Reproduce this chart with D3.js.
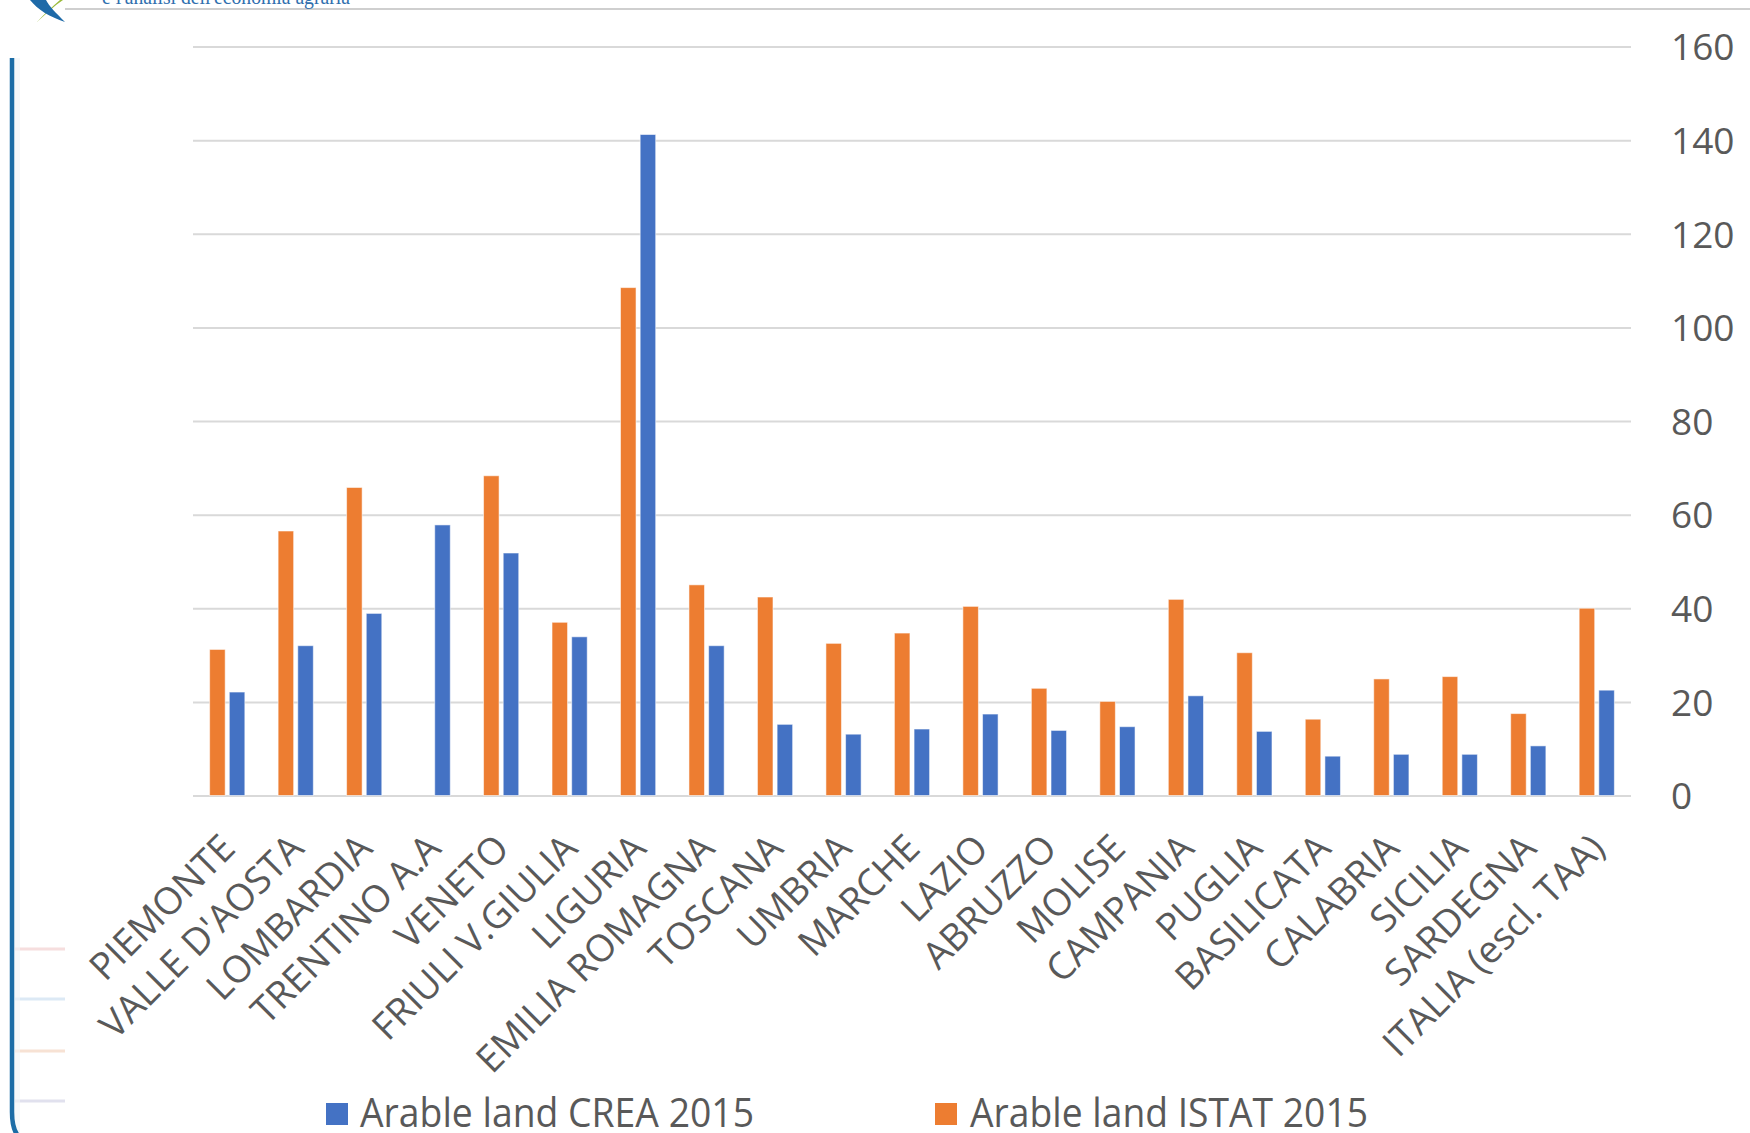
<!DOCTYPE html>
<html>
<head>
<meta charset="utf-8">
<script src="https://cdn.jsdelivr.net/npm/d3@7/dist/d3.min.js"></script>
<style>
  html, body { margin: 0; padding: 0; background: #ffffff; }
  svg { display: block; }
</style>
</head>
<body>
<svg id="chart" width="1750" height="1133"></svg>
<script>
// Regional arable land, CREA vs ISTAT estimates (2015)
const categories = [
  "PIEMONTE", "VALLE D'AOSTA", "LOMBARDIA", "TRENTINO A.A", "VENETO",
  "FRIULI V.GIULIA", "LIGURIA", "EMILIA ROMAGNA", "TOSCANA", "UMBRIA",
  "MARCHE", "LAZIO", "ABRUZZO", "MOLISE", "CAMPANIA", "PUGLIA",
  "BASILICATA", "CALABRIA", "SICILIA", "SARDEGNA", "ITALIA (escl. TAA)"
];
const creaValues = [
  22.1, 32.0, 38.9, 57.8, 51.8, 33.9, 141.2, 32.0, 15.2, 13.1,
  14.2, 17.4, 13.9, 14.7, 21.3, 13.7, 8.4, 8.8, 8.8, 10.6, 22.5
];
const istatValues = [
  31.2, 56.5, 65.8, null, 68.3, 37.0, 108.5, 45.0, 42.4, 32.5,
  34.7, 40.4, 22.9, 20.1, 41.9, 30.5, 16.3, 24.9, 25.4, 17.5, 40.0
];
const yTicks = [0, 20, 40, 60, 80, 100, 120, 140, 160];
const seriesNames = ["Arable land CREA 2015", "Arable land ISTAT 2015"];

const BLUE = "#4472C4", ORANGE = "#ED7D31", TEXT = "#595959", GRID = "#d9d9d9";

const svg = d3.select("#chart");

// ---- page decoration: header rule, logo fragment, frame ----
const deco = svg.append("g");
deco.append("line")
  .attr("x1", 65).attr("x2", 1750).attr("y1", 9).attr("y2", 9)
  .attr("stroke", "#cfcfcf").attr("stroke-width", 2);
deco.append("text")
  .attr("x", 102).attr("y", 4)
  .attr("font-family", "'Liberation Serif', serif")
  .attr("font-size", 20)
  .attr("fill", "#2f6fae")
  .attr("textLength", 248).attr("lengthAdjust", "spacingAndGlyphs")
  .text("e l'analisi dell'economia agraria");
deco.append("path")
  .attr("d", "M37,22 C46,14 54,6 63,0 L60,0 C52,7 44,14 37,22 Z")
  .attr("fill", "#9bbb3c");
deco.append("path")
  .attr("d", "M30,0 C38,10 50,17 65,22 C56,13 49,6 46,0 Z")
  .attr("fill", "#1e6aa8");

// faint stripes near the frame
const stripeColors = ["#f6dede", "#dce9f5", "#f7e2d4", "#e1e1ee"];
const stripeYs = [949, 999, 1051, 1101];
stripeYs.forEach((yy, i) => {
  deco.append("line")
    .attr("x1", 15).attr("x2", 65).attr("y1", yy).attr("y2", yy)
    .attr("stroke", stripeColors[i]).attr("stroke-width", 3);
});
deco.append("rect")
  .attr("x", 14).attr("y", 58).attr("width", 6).attr("height", 1075)
  .attr("fill", "#eef3f7").attr("opacity", 0.6);
deco.append("path")
  .attr("d", "M12,58 V1112 Q12,1142 32,1142")
  .attr("fill", "none").attr("stroke", "#1b6ca6").attr("stroke-width", 4.5);

// ---- chart ----
const plot = { left: 193, right: 1631, top: 46.5, bottom: 795.5 };

const x = d3.scaleBand()
  .domain(categories)
  .range([plot.left, plot.right])
  .padding(0);

const bw = x.bandwidth();
const x1 = d3.scaleBand()
  .domain(["ISTAT", "CREA"])
  .range([bw * 0.243, bw * 0.757])
  .paddingInner(0.21);

const y = d3.scaleLinear()
  .domain([0, 160])
  .range([plot.bottom, plot.top]);

// gridlines
const grid = svg.append("g")
  .attr("transform", `translate(${plot.right},0)`)
  .call(d3.axisLeft(y).tickValues(yTicks).tickSize(plot.right - plot.left).tickFormat(""));
grid.select(".domain").remove();
grid.selectAll("line").attr("stroke", GRID).attr("stroke-width", 2);

// value axis labels on the right
const yAxis = svg.append("g")
  .attr("transform", `translate(${plot.right},0)`)
  .call(d3.axisRight(y).tickValues(yTicks).tickSize(0).tickPadding(40));
yAxis.select(".domain").remove();
yAxis.selectAll("text")
  .attr("font-family", "'Open Sans', sans-serif")
  .attr("font-size", 37)
  .attr("fill", TEXT)
  .attr("dy", "0.36em");

// bars
const rows = categories.map((c, i) => ({
  cat: c,
  series: [
    { key: "ISTAT", value: istatValues[i], color: ORANGE },
    { key: "CREA", value: creaValues[i], color: BLUE }
  ]
}));

const groups = svg.append("g").selectAll("g")
  .data(rows)
  .join("g")
  .attr("transform", d => `translate(${x(d.cat)},0)`);

groups.selectAll("rect")
  .data(d => d.series.filter(s => s.value != null))
  .join("rect")
  .attr("x", s => x1(s.key))
  .attr("width", x1.bandwidth())
  .attr("y", s => y(s.value))
  .attr("height", s => y(0) - y(s.value))
  .attr("fill", s => s.color)
  .attr("stroke", "#ffffff")
  .attr("stroke-opacity", 0.55)
  .attr("stroke-width", 1);

// category labels
const xAxis = svg.append("g")
  .attr("transform", `translate(0,${plot.bottom})`)
  .call(d3.axisBottom(x).tickSize(0));
xAxis.select(".domain").remove();
xAxis.selectAll("text")
  .attr("font-family", "'Open Sans', sans-serif")
  .attr("font-size", 37.5)
  .attr("fill", TEXT)
  .attr("text-anchor", "end")
  .attr("y", 0).attr("dy", 0)
  .attr("transform", "translate(10,55) rotate(-45)");

// legend
const legend = svg.append("g");
const legendItems = [
  { name: seriesNames[0], color: BLUE, sx: 326, tx: 360, len: 394 },
  { name: seriesNames[1], color: ORANGE, sx: 935, tx: 970, len: 398 }
];
legendItems.forEach(it => {
  legend.append("rect")
    .attr("x", it.sx).attr("y", 1103).attr("width", 22).attr("height", 22)
    .attr("fill", it.color);
  legend.append("text")
    .attr("x", it.tx).attr("y", 1127)
    .attr("font-family", "'Liberation Sans Narrow', 'Open Sans', sans-serif")
    .attr("font-size", 41)
    .attr("fill", TEXT)
    .attr("textLength", it.len)
    .attr("lengthAdjust", "spacingAndGlyphs")
    .text(it.name);
});
</script>
</body>
</html>
